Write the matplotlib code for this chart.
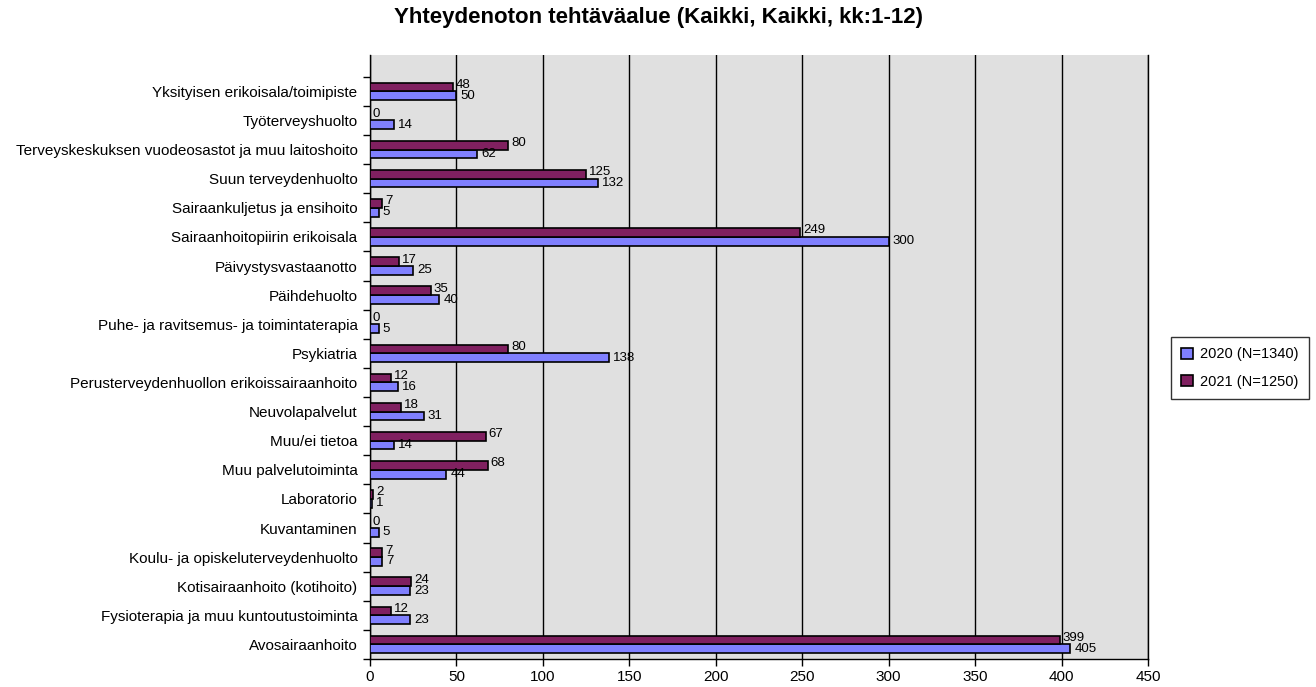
import matplotlib.pyplot as plt
import numpy as np

plt.rcParams["font.family"] = ["Liberation Sans", "DejaVu Sans"]

# categories from bottom to top
categories = [
    "Avosairaanhoito",
    "Fysioterapia ja muu kuntoutustoiminta",
    "Kotisairaanhoito (kotihoito)",
    "Koulu- ja opiskeluterveydenhuolto",
    "Kuvantaminen",
    "Laboratorio",
    "Muu palvelutoiminta",
    "Muu/ei tietoa",
    "Neuvolapalvelut",
    "Perusterveydenhuollon erikoissairaanhoito",
    "Psykiatria",
    "Puhe- ja ravitsemus- ja toimintaterapia",
    "Päihdehuolto",
    "Päivystysvastaanotto",
    "Sairaanhoitopiirin erikoisala",
    "Sairaankuljetus ja ensihoito",
    "Suun terveydenhuolto",
    "Terveyskeskuksen vuodeosastot ja muu laitoshoito",
    "Työterveyshuolto",
    "Yksityisen erikoisala/toimipiste",
]
values_2020 = [405, 23, 23, 7, 5, 1, 44, 14, 31, 16, 138, 5, 40, 25, 300, 5, 132, 62, 14, 50]
values_2021 = [399, 12, 24, 7, 0, 2, 68, 67, 18, 12, 80, 0, 35, 17, 249, 7, 125, 80, 0, 48]
series_labels = ["2020 (N=1340)", "2021 (N=1250)"]
title = "Yhteydenoton tehtäväalue (Kaikki, Kaikki, kk:1-12)"

fig = plt.figure(figsize=(13.16, 6.87), dpi=100)
ax = fig.add_axes([370 / 1316, 1 - 659 / 687, (1148 - 370) / 1316, (659 - 55) / 687])
ax.set_facecolor("#E0E0E0")

y = np.arange(len(categories))
h = 0.3
b20 = ax.barh(y - h / 2, values_2020, height=h, color="#8080FF", edgecolor="black",
              linewidth=1.2, label=series_labels[0], zorder=3)
b21 = ax.barh(y + h / 2, values_2021, height=h, color="#802060", edgecolor="black",
              linewidth=1.2, label=series_labels[1], zorder=3)

for yi, v in zip(y, values_2020):
    ax.annotate(str(v), (v, yi - h / 2), xytext=(3, 0), textcoords="offset points",
                va="center", ha="left", fontsize=9.5)
for yi, v in zip(y, values_2021):
    ax.annotate(str(v), (v, yi + h / 2), xytext=(2, 1.5), textcoords="offset points",
                va="center", ha="left", fontsize=9.5)

ax.set_xlim(0, 450)
ax.set_ylim(-0.5, len(categories) + 0.25)
ax.set_xticks(np.arange(0, 451, 50))
ax.tick_params(axis="x", labelsize=11, length=5, width=1, color="black", pad=3)
ax.set_yticks(y)
ax.set_yticklabels(categories, fontsize=11)
ax.set_yticks(np.arange(-0.5, len(categories), 1), minor=True)
ax.tick_params(axis="y", which="major", length=0, pad=9)
ax.tick_params(axis="y", which="minor", length=5, width=1, color="black")

ax.grid(axis="x", color="black", linewidth=1, zorder=1)
ax.set_axisbelow(True)
ax.spines["top"].set_visible(False)
for s in ["left", "bottom", "right"]:
    ax.spines[s].set_color("black")
    ax.spines[s].set_linewidth(1)

fig.suptitle(title, x=0.5, y=1 - 18 / 687, va="center", fontsize=16, fontweight="bold")

fig.legend(handles=[b20, b21], loc="center", bbox_to_anchor=(1240 / 1316, 1 - 368 / 687),
           fontsize=10.5, frameon=True, fancybox=False, edgecolor="black",
           handlelength=0.8, handleheight=0.8, handletextpad=0.5, labelspacing=0.9,
           borderpad=0.7)

fig.savefig("out.png", dpi=100)
